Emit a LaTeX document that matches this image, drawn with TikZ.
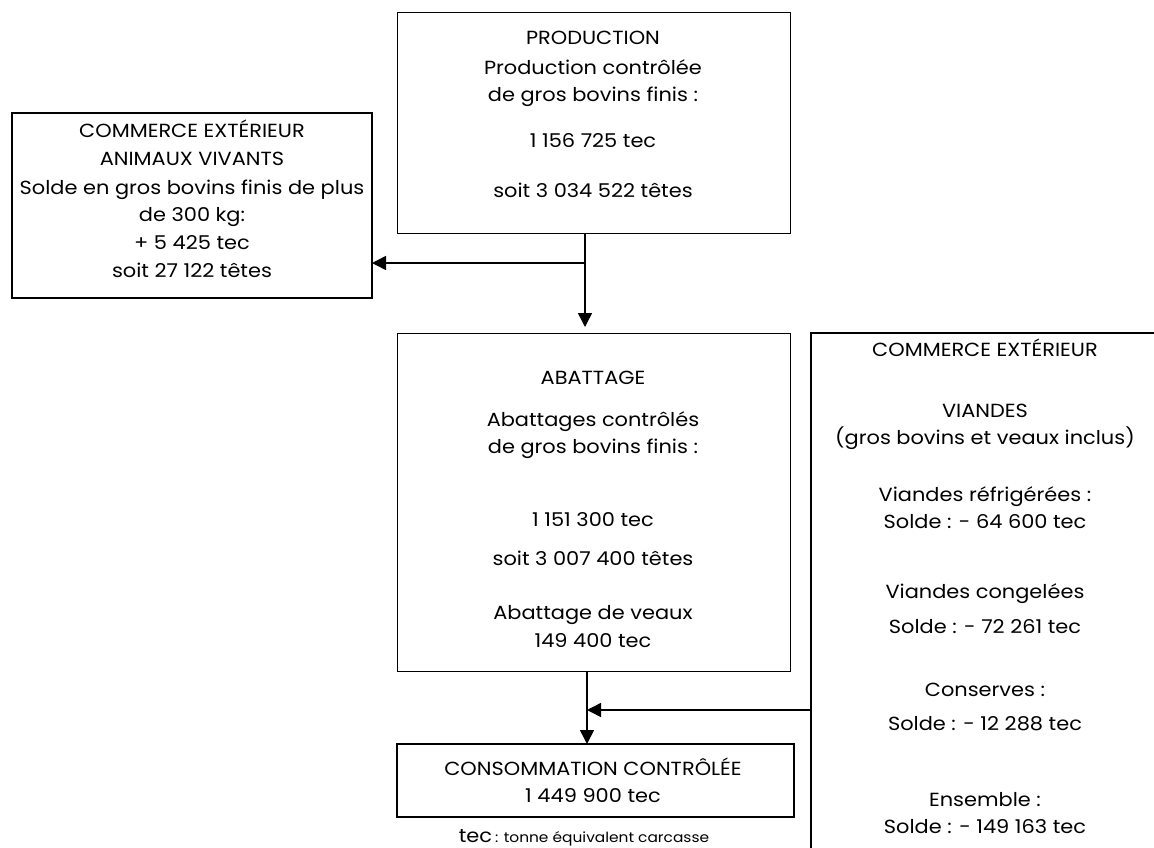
\documentclass[tikz,border=0pt]{standalone}
\usepackage{fontspec}
\setmainfont{Poppins}[FakeStretch=1.1]
\usetikzlibrary{arrows.meta}
\begin{document}
\begin{tikzpicture}[x=1pt,y=-1pt,
  box/.style={draw, line width=1pt, inner sep=0pt, outer sep=0pt, anchor=north west},
  thickbox/.style={box, line width=2pt},
  txt/.style={anchor=base, inner sep=0pt, font=\fontsize{19}{23}\selectfont},
  arr/.style={line width=1.5pt, -{Triangle[length=14pt,width=14pt]}}]
\useasboundingbox[fill=white] (0,0) rectangle (1154,848);
% boxes
\node[box, minimum width=393pt, minimum height=220pt] (prod) at (397,13) {};
\node[thickbox, minimum width=360pt, minimum height=185pt] (cev) at (12,113) {};
\node[box, minimum width=393pt, minimum height=338pt] (abat) at (397,333) {};
\node[thickbox, minimum width=397pt, minimum height=73pt] (conso) at (397,744) {};
\node[thickbox, minimum width=420pt, minimum height=600pt] (rc) at (811,333) {};
% production texts
\node[txt] (p1) at (593,45) {PRODUCTION};
\node[txt] (p2) at (593,75) {Production contrôlée};
\node[txt] (p3) at (593,102) {de gros bovins finis :};
\node[txt] (p4) at (593,148) {1 156 725 tec};
\node[txt] (p5) at (593,197) {soit 3 034 522 têtes};
% commerce exterieur animaux vivants
\node[txt] (c1) at (192,138) {COMMERCE EXTÉRIEUR};
\node[txt] (c2) at (192,166) {ANIMAUX VIVANTS};
\node[txt] (c3) at (192,194) {Solde en gros bovins finis de plus};
\node[txt] (c4) at (192,221) {de 300 kg:};
\node[txt] (c5) at (192,249) {+ 5 425 tec};
\node[txt] (c6) at (192,277) {soit 27 122 têtes};
% abattage
\node[txt] (a1) at (593,384) {ABATTAGE};
\node[txt] (a2) at (593,426) {Abattages contrôlés};
\node[txt] (a3) at (593,453) {de gros bovins finis :};
\node[txt] (a4) at (593,526) {1 151 300 tec};
\node[txt] (a5) at (593,565) {soit 3 007 400 têtes};
\node[txt] (a6) at (593,619) {Abattage de veaux};
\node[txt] (a7) at (593,647) {149 400 tec};
% commerce exterieur viandes
\node[txt] (r1) at (985,356) {COMMERCE EXTÉRIEUR};
\node[txt] (r2) at (985,417) {VIANDES};
\node[txt] (r3) at (985,444) {(gros bovins et veaux inclus)};
\node[txt] (r4) at (985,501) {Viandes réfrigérées :};
\node[txt] (r5) at (985,528) {Solde : - 64 600 tec};
\node[txt] (r6) at (985,598) {Viandes congelées};
\node[txt] (r7) at (985,633) {Solde : - 72 261 tec};
\node[txt] (r8) at (985,696) {Conserves :};
\node[txt] (r9) at (985,730) {Solde : - 12 288 tec};
\node[txt] (r10) at (985,806) {Ensemble :};
\node[txt] (r11) at (985,833) {Solde : - 149 163 tec};
% consommation
\node[txt] (k1) at (593,775) {CONSOMMATION CONTRÔLÉE};
\node[txt] (k2) at (593,802) {1 449 900 tec};
\node[anchor=base, inner sep=0pt] (note) at (584,842) {{\fontsize{19}{23}\selectfont tec} {\fontsize{14}{17}\selectfont : tonne équivalent carcasse}};
% connectors
\coordinate (ja) at (585,263);
\coordinate (jb) at (587,710);
\draw[arr, shorten >=6pt] (prod.south -| ja) -- (abat.north -| ja);
\draw[arr] (ja) -- (cev.east |- ja);
\draw[arr] (abat.south -| jb) -- (conso.north -| jb);
\draw[arr] (rc.west |- jb) -- (jb);
\end{tikzpicture}
\end{document}
